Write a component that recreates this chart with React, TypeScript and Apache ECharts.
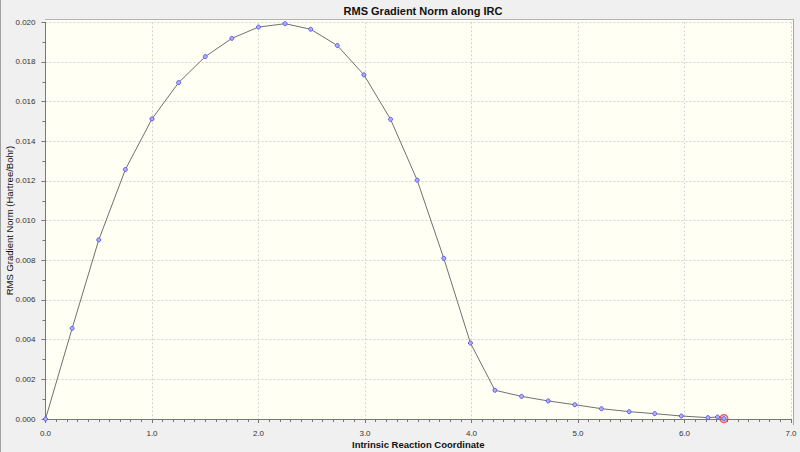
import React, { useEffect, useRef } from "react";
import * as echarts from "echarts";

const ircCoord = [0, 0.25, 0.5, 0.75, 1.0, 1.25, 1.5, 1.75, 2.0, 2.25, 2.49, 2.74, 2.99, 3.24, 3.49, 3.74, 3.99, 4.22, 4.47, 4.72, 4.97, 5.22, 5.48, 5.72, 5.97, 6.22, 6.31, 6.37];
const rmsGrad = [0.0, 0.00457, 0.00903, 0.01258, 0.01513, 0.01696, 0.01827, 0.01919, 0.01976, 0.01993, 0.01965, 0.01883, 0.01735, 0.01511, 0.01204, 0.0081, 0.00383, 0.00145, 0.00114, 0.00091, 0.00072, 0.00052, 0.00037, 0.00027, 0.00015, 0.00007, 0.0001, 0.00002];
const currentIndex = ircCoord.length - 1;

const titleText = "RMS Gradient Norm along IRC";
const xName = "Intrinsic Reaction Coordinate";
const yName = "RMS Gradient Norm (Hartree/Bohr)";

export default function App() {
  const ref = useRef<HTMLDivElement>(null);
  useEffect(() => {
    if (!ref.current) return;
    const chart = echarts.init(ref.current, null, { renderer: "svg" });
    const pts = ircCoord.map((x, i) => [x, rmsGrad[i]]);
    const font = "'Liberation Sans', Arial, sans-serif";
    chart.setOption({
      animation: false,
      backgroundColor: "#f0f0f0",
      textStyle: { fontFamily: font },
      title: {
        text: titleText,
        left: 418,
        top: 0,
        textAlign: "center",
        textStyle: { fontSize: 11, fontWeight: "bold", color: "#111", fontFamily: font },
      },
      graphic: [
        { type: "rect", z: -10, silent: true, shape: { x: 45, y: 19, width: 748, height: 401 }, style: { fill: "#fffff4" } },
        { type: "line", z: -9, silent: true, shape: { x1: 45, y1: 19.5, x2: 793, y2: 19.5 }, style: { stroke: "#b4b4b4", lineWidth: 1 } },
        { type: "line", z: -9, silent: true, shape: { x1: 793.5, y1: 19, x2: 793.5, y2: 425 }, style: { stroke: "#a8a8a8", lineWidth: 1 } },
        { type: "line", z: -9, silent: true, shape: { x1: 0.5, y1: 0, x2: 0.5, y2: 452 }, style: { stroke: "#a0a0a0", lineWidth: 1 } },
      ],
      grid: { left: 45.5, right: 9, top: 22.3, bottom: 33, containLabel: false, outerBoundsMode: "none" },
      xAxis: {
        type: "value",
        min: 0,
        max: 7,
        interval: 1,
        offset: 3,
        name: xName,
        nameLocation: "middle",
        nameGap: 17,
        nameMoveOverlap: false,
        nameTextStyle: { fontSize: 9.5, lineHeight: 10, fontWeight: "bold", color: "#111", fontFamily: font },
        axisLine: { show: true, lineStyle: { color: "#777", width: 1 } },
        axisTick: { show: true, length: 4, lineStyle: { color: "#777" } },
        minorTick: { show: true, splitNumber: 10, length: 3, lineStyle: { color: "#777" } },
        axisLabel: { fontSize: 8, lineHeight: 9, color: "#333", margin: 7, formatter: (v: number) => v.toFixed(1) },
        splitLine: { show: true, lineStyle: { color: "#d4d4d4", type: [2, 2], width: 1 } },
      },
      yAxis: {
        type: "value",
        min: 0,
        max: 0.02,
        interval: 0.002,
        offset: 2,
        name: yName,
        nameLocation: "middle",
        nameGap: 29,
        nameMoveOverlap: false,
        nameTextStyle: { fontSize: 9.5, color: "#111", fontFamily: font },
        axisLine: { show: true, lineStyle: { color: "#777", width: 1 } },
        axisTick: { show: true, length: 4, lineStyle: { color: "#777" } },
        minorTick: { show: true, splitNumber: 2, length: 3, lineStyle: { color: "#777" } },
        axisLabel: { fontSize: 8, color: "#333", margin: 8, formatter: (v: number) => v.toFixed(3) },
        splitLine: { show: true, lineStyle: { color: "#d4d4d4", type: [2, 2], width: 1 } },
      },
      series: [
        {
          type: "line",
          data: pts,
          smooth: false,
          symbol: "circle",
          symbolSize: 4,
          showAllSymbol: true,
          lineStyle: { color: "#707070", width: 1 },
          itemStyle: { color: "#b0b0ff", borderColor: "#5a5aee", borderWidth: 1 },
          z: 3,
        },
        {
          type: "scatter",
          data: [pts[currentIndex]],
          symbol: "circle",
          symbolSize: 8,
          itemStyle: { color: "rgba(255,120,120,0.35)", borderColor: "#e83030", borderWidth: 1.2 },
          z: 2,
        },
      ],
    });
    return () => chart.dispose();
  }, []);
  return <div ref={ref} style={{ width: 800, height: 452, position: "absolute", left: 0, top: 0 }} />;
}
